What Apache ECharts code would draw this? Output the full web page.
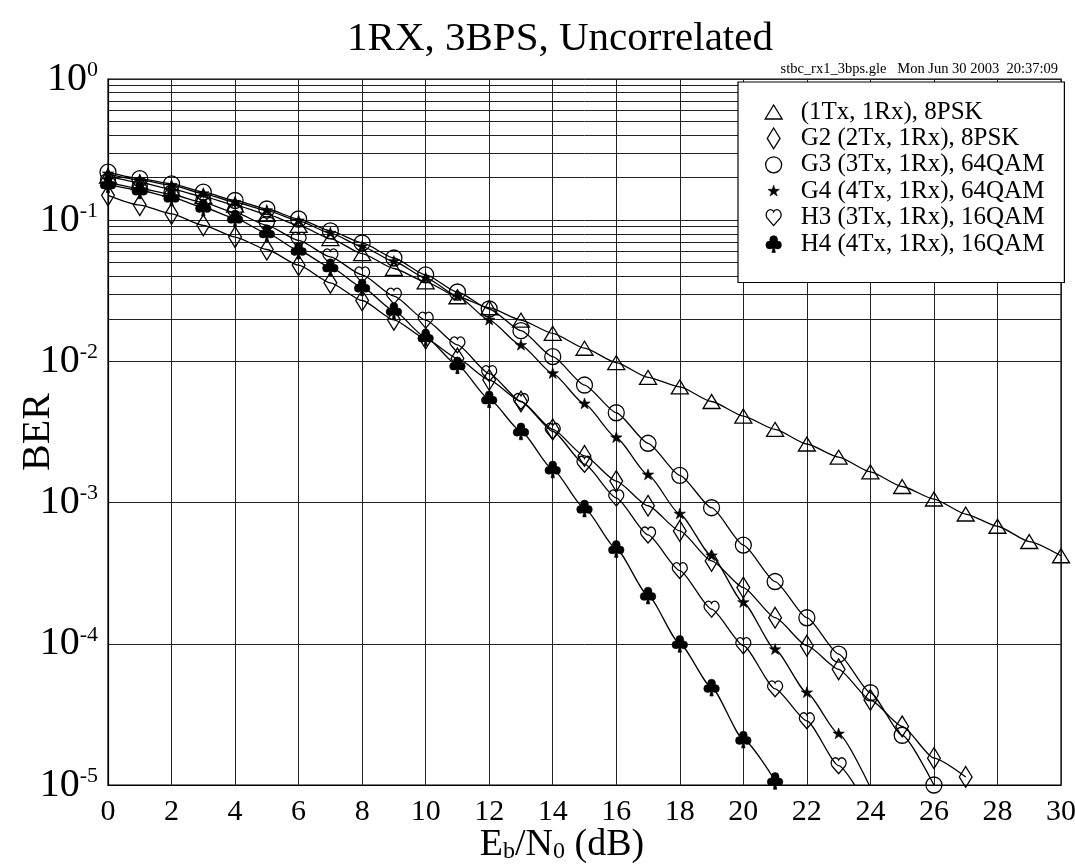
<!DOCTYPE html>
<html>
<head>
<meta charset="utf-8">
<script src="https://cdn.jsdelivr.net/npm/echarts@6.0.0/dist/echarts.min.js"></script>
<style>
html,body{margin:0;padding:0;background:#fff;}
#chart{width:1075px;height:867px;}
</style>
</head>
<body>
<div id="chart"></div>
<script>
// ---- data (BER vs Eb/N0 in dB, one value per dB starting at 0 dB) ----
var ebn0 = [0,1,2,3,4,5,6,7,8,9,10,11,12,13,14,15,16,17,18,19,20,21,22,23,24,25,26,27,28,29,30];
var xTicks = [0,2,4,6,8,10,12,14,16,18,20,22,24,26,28,30];
var yDecades = [1e-5,1e-4,1e-3,1e-2,1e-1,1];

var seriesNames = [
  '(1Tx, 1Rx), 8PSK',
  'G2 (2Tx, 1Rx), 8PSK',
  'G3 (3Tx, 1Rx), 64QAM',
  'G4 (4Tx, 1Rx), 64QAM',
  'H3 (3Tx, 1Rx), 16QAM',
  'H4 (4Tx, 1Rx), 16QAM'
];
var berSISO = [0.205,0.185,0.166,0.147,0.128,0.11,0.092,0.074,0.058,0.0455,0.0366,0.0287,0.024,0.0196,0.0158,0.0124,0.0098,0.0077,0.0066,0.0052,0.0041,0.0033,0.0026,0.0021,0.00165,0.0013,0.00106,0.00083,0.00068,0.00053,0.00042];
var berG2 = [0.15,0.128,0.111,0.092,0.076,0.062,0.048,0.036,0.027,0.0197,0.0145,0.0105,0.0074,0.0052,0.0033,0.00214,0.00142,0.00095,0.00063,0.000386,0.00025,0.000153,9.7e-5,6.6e-5,4.0e-5,2.6e-5,1.55e-5,1.14e-5];
var berG3 = [0.219,0.197,0.181,0.158,0.138,0.12,0.102,0.084,0.069,0.054,0.041,0.031,0.0235,0.0165,0.0108,0.0068,0.00433,0.00263,0.00156,0.00092,0.0005,0.000276,0.000153,8.45e-5,4.5e-5,2.25e-5,1.0e-5];
var berG4 = [0.213,0.193,0.177,0.154,0.134,0.117,0.099,0.081,0.065,0.051,0.039,0.029,0.0196,0.013,0.0082,0.005,0.00288,0.00157,0.00083,0.00042,0.000196,9.1e-5,4.5e-5,2.3e-5,9.6e-6];
var berH3 = [0.185,0.168,0.152,0.133,0.113,0.092,0.072,0.055,0.041,0.029,0.0196,0.0131,0.0082,0.0052,0.0032,0.00187,0.00108,0.00059,0.00033,0.000176,9.7e-5,4.8e-5,2.85e-5,1.37e-5,6.5e-6];
var berH4 = [0.18,0.163,0.145,0.123,0.103,0.081,0.061,0.0465,0.0335,0.0228,0.0148,0.0094,0.0054,0.0032,0.00172,0.00091,0.00047,0.00022,0.0001,4.9e-5,2.1e-5,1.07e-5];

// ---- styling ----
var FONT = '"Liberation Serif", "DejaVu Serif", serif';
// all symbol paths share one 20x22 frame so plot markers and legend icons match
var FRAME = 'M0,0L0,0M20,22L20,22';
var SYM = {
  triangle: 'path://' + FRAME + 'M10,4L18.5,18L1.5,18Z',
  diamond: 'path://' + FRAME + 'M10,0.6L16.4,11L10,21.4L3.6,11Z',
  circle: 'path://' + FRAME + 'M2,11a8,8 0 1,0 16,0a8,8 0 1,0 -16,0Z',
  star: 'path://' + FRAME + 'M10,5L11.35,9.14L15.71,9.15L12.19,11.71L13.53,15.85L10,13.3L6.47,15.85L7.81,11.71L4.29,9.15L8.65,9.14Z',
  heart: 'path://' + FRAME + 'M10,19L3.6,11.5C2.9,10.6 2.5,9.6 2.5,8.4C2.5,5.4 4.6,3 7,3C8.4,3 9.5,3.9 10,5.2C10.5,3.9 11.6,3 13,3C15.4,3 17.5,5.4 17.5,8.4C17.5,9.6 17.1,10.6 16.4,11.5Z',
  club: 'path://' + FRAME + 'M6.1,6.6a3.9,3.9 0 1,0 7.8,0a3.9,3.9 0 1,0 -7.8,0Z M2.2,12a3.9,3.9 0 1,0 7.8,0a3.9,3.9 0 1,0 -7.8,0Z M10,12a3.9,3.9 0 1,0 7.8,0a3.9,3.9 0 1,0 -7.8,0Z M10,10L8.3,19.5L11.7,19.5Z'
};
var seriesDefs = [
  {values: berSISO, symbol: SYM.triangle, filled: false},
  {values: berG2, symbol: SYM.diamond, filled: false},
  {values: berG3, symbol: SYM.circle, filled: false},
  {values: berG4, symbol: SYM.star, filled: true},
  {values: berH3, symbol: SYM.heart, filled: false},
  {values: berH4, symbol: SYM.club, filled: true}
];

// minor horizontal grid lines at 2..9 x 10^k
var minorGrid = [];
for (var d = 0; d < yDecades.length - 1; d++) {
  for (var m = 2; m <= 9; m++) minorGrid.push({yAxis: m * yDecades[d]});
}

function itemStyleFor(def) {
  return def.filled
    ? {color: '#000', borderColor: '#000', borderWidth: 0.6}
    : {color: 'rgba(0,0,0,0)', borderColor: '#000', borderWidth: 1.3};
}

var series = seriesDefs.map(function (def, i) {
  var s = {
    type: 'line',
    name: seriesNames[i],
    data: def.values.map(function (v, k) { return [ebn0[k], v]; }),
    symbol: def.symbol,
    symbolSize: [20, 22],
    showAllSymbol: true,
    smooth: 0.2,
    smoothMonotone: 'x',
    clip: true,
    lineStyle: {color: '#000', width: 1.3},
    itemStyle: itemStyleFor(def),
    emphasis: {disabled: true},
    z: 5 + i
  };
  if (i === 0) {
    s.markLine = {
      silent: true,
      symbol: ['none', 'none'],
      label: {show: false},
      lineStyle: {color: '#222', width: 1, type: 'solid'},
      emphasis: {disabled: true},
      animation: false,
      z: 1,
      data: minorGrid
    };
  }
  return s;
});

var chart = echarts.init(document.getElementById('chart'), null, {renderer: 'canvas'});
chart.setOption({
  animation: false,
  backgroundColor: '#fff',
  title: [
    {
      text: '1RX, 3BPS, Uncorrelated',
      left: 555, top: 14, textAlign: 'center',
      textStyle: {fontFamily: FONT, fontSize: 41, fontWeight: 'normal', color: '#000'}
    },
    {
      text: 'stbc_rx1_3bps.gle   Mon Jun 30 2003  20:37:09',
      right: 12, top: 57,
      textStyle: {fontFamily: FONT, fontSize: 14.5, fontWeight: 'normal', color: '#000'}
    },
    {
      text: '{n|E}{sub|b}{n|/N}{sub|0}{n| (dB)}',
      left: 557, top: 821, textAlign: 'center',
      textStyle: {
        fontFamily: FONT, fontWeight: 'normal', color: '#000',
        rich: {
          n: {fontFamily: FONT, fontWeight: 'normal', fontSize: 38, lineHeight: 38, color: '#000'},
          sub: {fontFamily: FONT, fontWeight: 'normal', fontSize: 24, lineHeight: 18, verticalAlign: 'bottom', color: '#000'}
        }
      }
    }
  ],
  legend: {
    left: 738, top: 82,
    orient: 'vertical',
    align: 'left',
    padding: [17.5, 20, 26, 25],
    itemWidth: 20, itemHeight: 22, itemGap: 1.4,
    backgroundColor: '#fff',
    borderColor: '#000', borderWidth: 1.2,
    selectedMode: false,
    textStyle: {fontFamily: FONT, fontSize: 25, lineHeight: 22, color: '#000', padding: [0, 0, 0, 12]},
    data: seriesDefs.map(function (def, i) {
      return {name: seriesNames[i], icon: def.symbol, itemStyle: itemStyleFor(def)};
    }),
    z: 20
  },
  grid: {
    left: 108, right: 14, top: 79, bottom: 82,
    containLabel: false, outerBoundsMode: 'none',
    show: true, borderColor: '#000', borderWidth: 1.2, backgroundColor: 'rgba(0,0,0,0)'
  },
  xAxis: {
    type: 'value', min: xTicks[0], max: xTicks[xTicks.length - 1], interval: 2,
    axisLine: {show: true, lineStyle: {color: '#000', width: 1.2}},
    axisTick: {show: false},
    axisLabel: {
      fontFamily: FONT, fontSize: 30, color: '#000', margin: 12,
      showMinLabel: true, showMaxLabel: true
    },
    splitLine: {show: true, lineStyle: {color: '#222', width: 1}}
  },
  yAxis: {
    type: 'log', logBase: 10, min: yDecades[0], max: yDecades[yDecades.length - 1],
    name: 'BER', nameLocation: 'middle', nameGap: 50, nameRotate: 90, nameMoveOverlap: false,
    nameTextStyle: {fontFamily: FONT, fontSize: 40, color: '#000'},
    axisLine: {show: true, lineStyle: {color: '#000', width: 1.2}},
    axisTick: {show: false},
    minorTick: {show: false},
    axisLabel: {
      margin: 10, color: '#000',
      formatter: function (v) {
        var e = Math.round(Math.log10(v));
        return '{b|10}{s|' + e + '}';
      },
      rich: {
        b: {fontFamily: FONT, fontSize: 40, lineHeight: 40, color: '#000'},
        s: {fontFamily: FONT, fontSize: 22, lineHeight: 14, verticalAlign: 'top', color: '#000'}
      }
    },
    splitLine: {show: true, lineStyle: {color: '#222', width: 1}}
  },
  series: series
});
</script>
</body>
</html>
